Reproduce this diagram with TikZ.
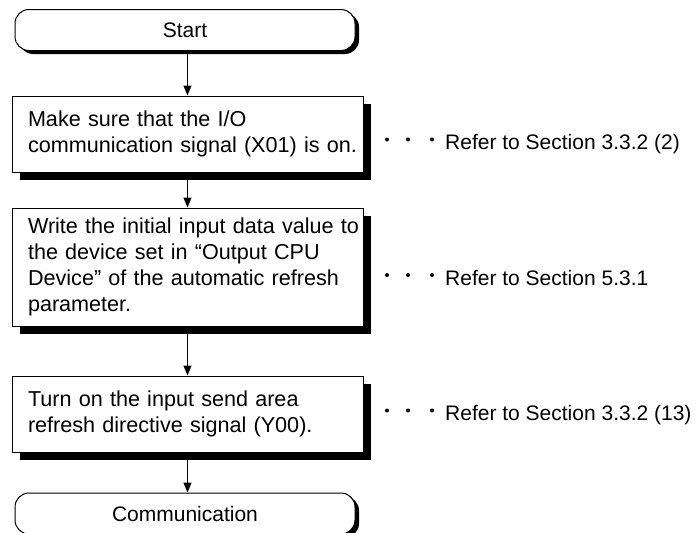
\documentclass[tikz,border=0pt]{standalone}
\usepackage{fontspec}
\setmainfont{Liberation Sans}
\usetikzlibrary{arrows.meta,shadows}
\begin{document}
\begin{tikzpicture}[x=1pt,y=-1pt,
  every node/.style={font=\fontsize{21}{26}\selectfont},
  term/.style={draw, line width=1pt, fill=white, rounded corners=14pt,
    minimum width=340pt, minimum height=41pt, inner sep=0pt,
    general shadow={fill=black, shadow xshift=4pt, shadow yshift=-3.5pt}},
  stepbox/.style={draw, line width=1pt, fill=white, minimum width=351pt,
    text width=319pt, align=left, inner xsep=16pt, inner ysep=0pt,
    font=\fontsize{21.6}{26}\selectfont,
    general shadow={fill=black, shadow xshift=8pt, shadow yshift=-8pt}},
  flow/.style={-{Triangle[width=8pt,length=10pt]}, line width=1.3pt},
  note/.style={anchor=base west, inner sep=0pt},
  dotmark/.style={fill=black}
]
\useasboundingbox (0,0) rectangle (697,533);
\node[term] (start) at (185,30) {Start};
\node[stepbox, minimum height=76pt] (s1) at (187.5,134)
  {\mbox{Make sure that the I/O}\\\mbox{communication signal (X01) is on.}};
\node[stepbox, minimum height=118pt] (s2) at (187.5,267)
  {\mbox{Write the initial input data value to}\\\mbox{the device set in “Output CPU}\\\mbox{Device” of the automatic refresh}\\\mbox{parameter.}};
\node[stepbox, minimum height=76pt] (s3) at (187.5,414)
  {\mbox{Turn on the input send area}\\\mbox{refresh directive signal (Y00).}};
\node[term] (comm) at (185,513.5) {Communication};

\draw[flow] (s1.north |- start.south) -- (s1.north);
\draw[flow] (s1.south) -- (s2.north);
\draw[flow] (s2.south) -- (s3.north);
\draw[flow] (s3.south) -- (s3.south |- comm.north);

\node[note] (n1) at (445,149.5) {Refer to Section 3.3.2 (2)};
\node[note] (n2) at (445,285) {Refer to Section 5.3.1};
\node[note] (n3) at (445,420.5) {Refer to Section 3.3.2 (13)};
\foreach \yy in {139.5,275,410.5}
  \foreach \xx in {387,408,432}
    \fill[dotmark] (\xx,\yy) circle (2pt);
\end{tikzpicture}
\end{document}
